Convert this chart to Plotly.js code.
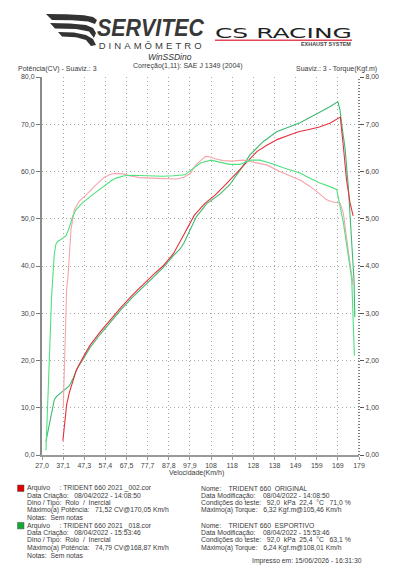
<!DOCTYPE html>
<html><head><meta charset="utf-8">
<script src="https://cdn.plot.ly/plotly-3.0.1.min.js"></script>
<style>html,body{margin:0;padding:0;background:#fff;overflow:hidden}</style>
</head><body><div id="chart" style="width:416px;height:573px"></div>
<script>
// ---------- DATA ----------
const speedPowerOriginal = [37.0,37.6,38.2,38.8,40.1,41.7,43.5,46.5,50,55,60,65,70,75,80,85,90,95,100,105,110,115,120,125,130,135,140,145,150,155,160,165,168,170.05,171.5,173,174.7,176.2];
const powerOriginal = [3.0,5.5,8.5,10.6,13.2,15.6,18.0,20.5,23.2,26.1,28.8,31.3,33.7,35.9,38.0,40.0,42.6,46.6,50.7,53.2,55.0,57.2,59.6,62.0,64.2,65.6,66.8,67.6,68.4,68.9,69.4,70.2,71.0,71.52,65.3,58.3,53.4,50.6];

const speedTorqueOriginal = [37.2,38.0,38.8,39.6,40.1,40.9,42.5,45,48.1,52,56.9,60,62.5,66,70,74,78.8,85,91.6,95,98,101,104.3,105.46,107.5,110,113.9,118,123.5,128.3,134.7,141,146,150.7,155,158.7,163.5,166,169.9,171.5,173.9,175.5,176.2];
const torqueOriginal = [1.0,2.5,3.5,3.86,4.15,4.77,5.19,5.38,5.5,5.68,5.88,5.94,5.96,5.95,5.9,5.87,5.86,5.85,5.84,5.88,5.95,6.15,6.28,6.32,6.31,6.27,6.23,6.22,6.24,6.2,6.14,6.0,5.9,5.82,5.7,5.58,5.4,5.36,5.33,5.12,4.3,3.8,3.6];

const speedPowerSport = [28.9,30,31,32,32.9,34,36.1,38,40.1,42,44,46.5,50,55,60,65,70,75,80,85,90,93.2,95,98,101,106,112.3,117,122,126.7,133,139.5,145.9,150.7,155,158.7,162,165,168.87,169.9,171,172.3,173.9,175.5,176.6,177];
const powerSport = [2.9,5.5,8.0,10.2,11.7,12.4,13.1,13.7,14.6,16.3,18.4,20.1,22.7,25.6,28.3,30.8,33.2,35.4,37.6,39.6,42.2,43.6,44.8,47.5,50.4,53.2,55.2,57.2,60.3,63.5,66.3,68.4,69.5,70.3,71.3,72.2,72.9,73.7,74.79,73.0,69.0,65.0,56.6,45.5,37.1,29.2];

const speedTorqueSport = [28.9,29.5,30.5,31.6,32.3,32.9,33.6,34.5,36.1,38.5,40,41.7,43.3,46.5,51,56.1,60,62.5,66.5,70,75,80,85,90,95.6,99,103,108.01,110,113,117,122,126.7,131.5,137,142.7,146,150.7,155,160,165,168.3,171.5,173.9,175.5,176.8];
const torqueSport = [0.1,1.0,2.0,3.36,3.98,4.25,4.45,4.52,4.56,4.64,4.8,5.05,5.19,5.34,5.5,5.68,5.8,5.86,5.91,5.92,5.91,5.9,5.9,5.91,5.93,6.05,6.18,6.24,6.22,6.18,6.15,6.15,6.24,6.24,6.17,6.08,6.03,5.97,5.87,5.76,5.68,5.62,4.92,4.22,3.73,2.1];

const speedTickVals = [27,37.13,47.27,57.4,67.53,77.67,87.8,97.93,108.07,118.2,128.33,138.47,148.6,158.73,168.87,179];
const speedTickText = ["27,0","37,1","47,3","57,4","67,5","77,7","87,8","97,9","108","118","128","138","149","159","169","179"];

const infoOriginalLeft = ["Arquivo\u00a0\u00a0\u00a0\u00a0\u00a0: TRIDENT 660 2021 _002.cor","Data Criação:\u00a0\u00a0 08/04/2022 - 14:08:50","Dino / Tipo:\u00a0 Rolo\u00a0 /\u00a0 Inercial","Máximo(a) Potência:\u00a0\u00a0 71,52 CV@170,05 Km/h","Notas:\u00a0 Sem notas"];
const infoSportLeft = ["Arquivo\u00a0\u00a0\u00a0\u00a0\u00a0: TRIDENT 660 2021 _018.cor","Data Criação:\u00a0\u00a0 08/04/2022 - 15:53:46","Dino / Tipo:\u00a0 Rolo\u00a0 /\u00a0 Inercial","Máximo(a) Potência:\u00a0\u00a0 74,79 CV@168,87 Km/h","Notas:\u00a0 Sem notas"];
const infoOriginalRight = ["Nome:\u00a0\u00a0\u00a0 TRIDENT 660\u00a0 ORIGINAL","Data Modificação:\u00a0\u00a0\u00a0 08/04/2022 - 14:08:50","Condições do teste:\u00a0\u00a0 92,0\u00a0 kPa\u00a0 22,4\u00a0 °C\u00a0\u00a0 71,0 %","Máximo(a) Torque:\u00a0\u00a0 6,32 Kgf.m@105,46 Km/h"];
const infoSportRight = ["Nome:\u00a0\u00a0\u00a0 TRIDENT 660\u00a0 ESPORTIVO","Data Modificação:\u00a0\u00a0\u00a0 08/04/2022 - 15:53:46","Condições do teste:\u00a0\u00a0 92,0\u00a0 kPa\u00a0 25,4\u00a0 °C\u00a0\u00a0 63,1 %","Máximo(a) Torque:\u00a0\u00a0 6,24 Kgf.m@108,01 Km/h"];
const printedText = "Impresso em: 15/06/2026 - 16:31:30";

// ---------- LAYOUT HELPERS ----------
const W = 416, H = 573, L = 42, R = 57, T = 77, B = 118;
const PW = W - L - R, PH = H - T - B;
const px = x => (x - L) / PW;
const py = y => (H - B - y) / PH;
const FONT = "Liberation Sans, Arial, sans-serif";
const TXT = '#3a3a3a';

function ann(text, x, y, xa, size, extra) {
  return Object.assign({
    text: text, xref: 'paper', yref: 'paper', x: px(x), y: py(y),
    xanchor: xa || 'left', yanchor: 'middle', showarrow: false,
    borderpad: 0, font: {family: FONT, size: size || 7, color: TXT}
  }, extra || {});
}
function pathFrom(pts) {
  return 'M' + pts.map(p => px(p[0]).toFixed(4) + ',' + py(p[1]).toFixed(4)).join(' L') + ' Z';
}

const annotations = [
  ann('<b><i>SERVITEC</i></b>', 150.5, 28, 'center', 23, {font: {family: FONT, size: 23, color: '#383838'}}),
  ann('DINAMÔMETRO', 150, 46, 'center', 9.5, {font: {family: FONT, size: 9.5, color: '#3a3a3a'}}),
  ann('<i>WinSSDino</i>', 170, 57.5, 'center', 8.5, {font: {family: FONT, size: 8.5, color: '#333'}}),
  ann('CS RACING', 283.5, 32.5, 'center', 14, {font: {family: 'DejaVu Sans, sans-serif', size: 14, color: '#222'}}),
  ann('<b>EXHAUST SYSTEM</b>', 326, 44, 'center', 5, {font: {family: FONT, size: 5, color: '#444'}}),
  ann('Potência(CV) - Suaviz.: 3', 17, 69, 'left', 7),
  ann('Correção(1,11): SAE J 1349 (2004)', 188, 66, 'center', 7),
  ann('Suaviz.: 3 - Torque(Kgf.m)', 378, 69, 'right', 7),
  ann('Velocidade(Km/h)', 196, 472.5, 'center', 7)
];
const lineY = [488.3, 495.7, 503, 510.3, 517.7];
infoOriginalLeft.forEach((t, i) => annotations.push(ann(t, 26, lineY[i], 'left', 6.8)));
infoSportLeft.forEach((t, i) => annotations.push(ann(t, 26, lineY[i] + 37.4, 'left', 6.8)));
infoOriginalRight.forEach((t, i) => annotations.push(ann(t, 200, lineY[i], 'left', 6.8)));
infoSportRight.forEach((t, i) => annotations.push(ann(t, 200, lineY[i] + 37.4, 'left', 6.8)));
annotations.push(ann(printedText, 363, 560.7, 'right', 6.8));

const shapes = [
  // right axis (dotted)
  {type: 'line', xref: 'paper', yref: 'paper', x0: 1, x1: 1, y0: 0, y1: 1, line: {color: '#555', width: 1.5, dash: '1px,2px'}},
  // swoosh logo
  {type: 'path', xref: 'paper', yref: 'paper', fillcolor: '#333', line: {width: 0},
   path: pathFrom([[46,14],[66,14.3],[84,15.3],[93,17],[97,20],[95,24],[88,21.5],[72,20.3],[52,20]])},
  {type: 'path', xref: 'paper', yref: 'paper', fillcolor: '#333', line: {width: 0},
   path: pathFrom([[50,23],[70,23.5],[86,25],[93,28],[96,33],[94,38],[89,31.5],[76,29],[55,28.5]])},
  {type: 'path', xref: 'paper', yref: 'paper', fillcolor: '#333', line: {width: 0},
   path: pathFrom([[58,32],[74,32.5],[86,35],[93,39],[96,45],[91,46],[86,40],[76,37.2],[62,36.6]])},
  // CS racing underline
  {type: 'line', xref: 'paper', yref: 'paper', x0: px(215), x1: px(352), y0: py(40.3), y1: py(40.3), line: {color: '#e04858', width: 1.6}},
  // legend squares
  {type: 'rect', xref: 'paper', yref: 'paper', x0: px(17.5), x1: px(24), y0: py(491.5), y1: py(485), fillcolor: '#e00000', line: {color: '#555', width: 0.5}},
  {type: 'rect', xref: 'paper', yref: 'paper', x0: px(17.5), x1: px(24), y0: py(528.9), y1: py(522.4), fillcolor: '#12a838', line: {color: '#555', width: 0.5}}
];

const traces = [
  {x: speedTorqueOriginal, y: torqueOriginal, yaxis: 'y2', type: 'scatter', mode: 'lines', line: {color: '#f6a4aa', width: 1.1}, name: 'Torque ORIGINAL'},
  {x: speedTorqueSport, y: torqueSport, yaxis: 'y2', type: 'scatter', mode: 'lines', line: {color: '#4fe07f', width: 1.1}, name: 'Torque ESPORTIVO'},
  {x: speedPowerSport, y: powerSport, type: 'scatter', mode: 'lines', line: {color: '#3dba72', width: 1.1}, name: 'Potência ESPORTIVO'},
  {x: speedPowerOriginal, y: powerOriginal, type: 'scatter', mode: 'lines', line: {color: '#e6303c', width: 1.1}, name: 'Potência ORIGINAL'}
];

const axisFont = {family: FONT, size: 7, color: '#444'};
const layout = {
  width: W, height: H,
  margin: {l: L, r: R, t: T, b: B, pad: 0},
  paper_bgcolor: '#fff', plot_bgcolor: '#fff',
  separators: ',.',
  showlegend: false,
  font: {family: FONT, size: 7, color: TXT},
  xaxis: {
    range: [27, 179], tickmode: 'array', tickvals: speedTickVals, ticktext: speedTickText,
    showline: true, linecolor: '#999', linewidth: 1.5, ticks: 'outside', ticklen: 3, tickcolor: '#999',
    showgrid: true, gridcolor: '#a8a8a8', griddash: '1px,3px', gridwidth: 1, zeroline: false,
    tickfont: axisFont, fixedrange: true
  },
  yaxis: {
    range: [0, 80], dtick: 10, tick0: 0, tickformat: '.1f',
    showline: true, linecolor: '#8a8a8a', linewidth: 2, ticks: 'outside', ticklen: 4, tickcolor: '#777',
    showgrid: true, gridcolor: '#a8a8a8', griddash: '1px,3px', gridwidth: 1, zeroline: false,
    tickfont: axisFont, fixedrange: true
  },
  yaxis2: {
    range: [0, 8], dtick: 1, tick0: 0, tickformat: '.2f', overlaying: 'y', side: 'right',
    showline: false, ticks: 'outside', ticklen: 4, tickcolor: '#555',
    showgrid: false, zeroline: false, tickfont: axisFont, fixedrange: true
  },
  annotations: annotations,
  shapes: shapes
};

const stretch = {
  'CS RACING': [137, 'spacingAndGlyphs'],
  'DINAMÔMETRO': [103, 'spacing'],
  'SERVITEC': [107, 'spacingAndGlyphs'],
  'EXHAUST SYSTEM': [50, 'spacingAndGlyphs']
};

Plotly.newPlot('chart', traces, layout, {staticPlot: true, displayModeBar: false}).then(() => {
  document.querySelectorAll('.annotation-text').forEach(t => {
    const s = stretch[t.textContent];
    if (s) { t.setAttribute('textLength', s[0]); t.setAttribute('lengthAdjust', s[1]); }
  });
});
</script>
</body></html>
